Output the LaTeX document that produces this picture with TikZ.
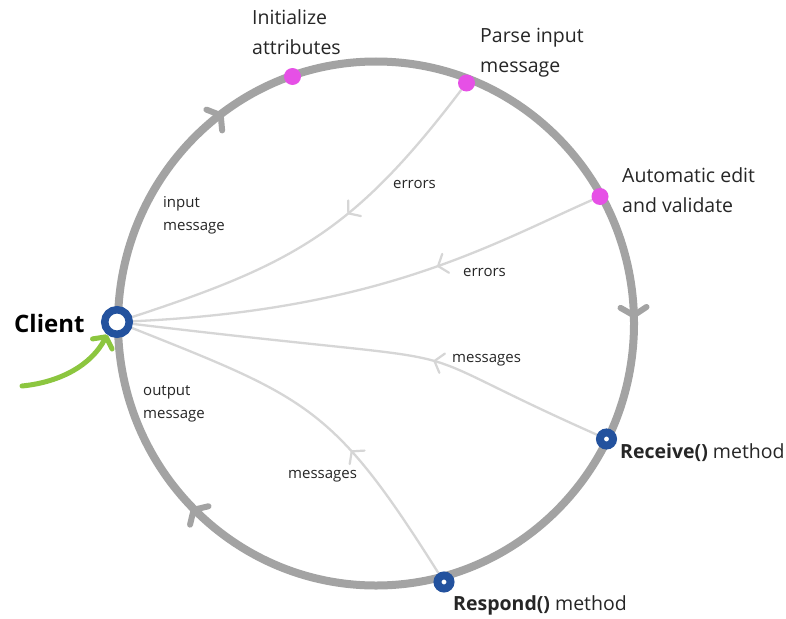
\documentclass[tikz,border=0pt]{standalone}
\usepackage{fontspec}
\setmainfont{Open Sans}
\usetikzlibrary{decorations.markings,backgrounds,arrows.meta}

\definecolor{ringgray}{HTML}{A3A3A3}
\definecolor{flowgray}{HTML}{D6D6D6}
\definecolor{stepmag}{HTML}{E650E6}
\definecolor{hookblue}{HTML}{23529E}
\definecolor{clientgreen}{HTML}{8CC63F}
\definecolor{labeltext}{HTML}{262626}

\begin{document}
\begin{tikzpicture}[x=1pt,y=-1pt,
  ring/.style={draw=ringgray,line width=8pt},
  ringtip/.style={draw=ringgray,line width=6pt,line cap=round,line join=round},
  flowtip/.style={decoration={markings,mark=at position #1 with
      {\draw[flowgray,line width=2.2pt,line cap=round,line join=round]
        (-8pt,10pt) -- (0pt,0pt) -- (-8pt,-10pt);}}},
  flow/.style={draw=flowgray,line width=2.3pt,postaction={decorate}},
  stepdot/.style={circle,fill=stepmag,inner sep=0pt,minimum size=17pt},
  hookdot/.style={circle,draw=hookblue,fill=white,line width=8pt,inner sep=0pt,minimum size=13pt},
  clientdot/.style={circle,draw=hookblue,fill=white,line width=7.5pt,inner sep=0pt,minimum size=24.5pt},
  biglabel/.style={anchor=base west,inner sep=0pt,align=left,text=labeltext,
      font=\fontsize{19.5}{30}\selectfont},
  smalllabel/.style={anchor=base west,inner sep=0pt,align=left,text=labeltext,
      font=\fontsize{15}{23}\selectfont},
  greenflow/.style={draw=clientgreen,line width=5pt,line cap=round,
      -{Straight Barb[length=8pt,width=22pt,round]}},
]
\useasboundingbox (0,0) rectangle (786,618);

% steps on the cycle
\node[clientdot] (client) at (117,322) {};
\node[stepdot] (init) at (292.5,76.5) {};
\node[stepdot] (parse) at (466.5,83) {};
\node[stepdot] (auto) at (600,196.5) {};
\node[hookdot] (receive) at (606.5,439) {};
\node[hookdot] (respond) at (444,582) {};

\begin{scope}[on background layer]
  \fill[white] (0,0) rectangle (786,618);
  % the request cycle
  \draw[ring] (376,323.5) ellipse [x radius=258pt, y radius=262pt];
  \draw[ringtip,shift={(220.7,115.2)},rotate=37] (-8pt,13pt) -- (0pt,0pt) -- (-8pt,-13pt);
  \draw[ringtip,shift={(633.8,315.4)},rotate=-88] (-8pt,13pt) -- (0pt,0pt) -- (-8pt,-13pt);
  \draw[ringtip,shift={(193.6,509.8)},rotate=135] (-8pt,13pt) -- (0pt,0pt) -- (-8pt,-13pt);

  % return paths back to the client
  \draw[flow,flowtip=0.41] (parse) .. controls (354,231) and (294,264) .. (client);
  \draw[flow,flowtip=0.35] (auto) .. controls (490,245) and (380,310) .. (client);
  \draw[flow,flowtip=0.37] (receive) .. controls (368,333) and (525,371) .. (client);
  \draw[flow,flowtip=0.37] (respond) .. controls (334,407) and (308,398) .. (client);
\end{scope}

% incoming request
\coordinate (greenstart) at (22,386);
\draw[greenflow] (greenstart) .. controls (62,382) and (92,364) .. (client.232);

% labels (base anchor sits on the last line)
\node[biglabel] (initlbl) at (252,55) {Initialize\\attributes};
\node[biglabel] (parselbl) at (480,72) {Parse input\\message};
\node[biglabel] (autolbl) at (622,212) {Automatic edit\\and validate};
\node[biglabel] (recvlbl) at (620,458) {\textbf{Receive()} method};
\node[biglabel] (resplbl) at (453,610) {\textbf{Respond()} method};
\node[anchor=base west,inner sep=0pt,font=\fontsize{24}{28}\selectfont\bfseries] (clientlbl) at (14,332) {Client};
\node[smalllabel] (inlbl) at (163,230) {input\\message};
\node[smalllabel] (outlbl) at (143,418) {output\\message};
\node[smalllabel] (err1) at (393,188) {errors};
\node[smalllabel] (err2) at (463,276) {errors};
\node[smalllabel] (msg1) at (452,362) {messages};
\node[smalllabel] (msg2) at (288,478) {messages};
\end{tikzpicture}
\end{document}
